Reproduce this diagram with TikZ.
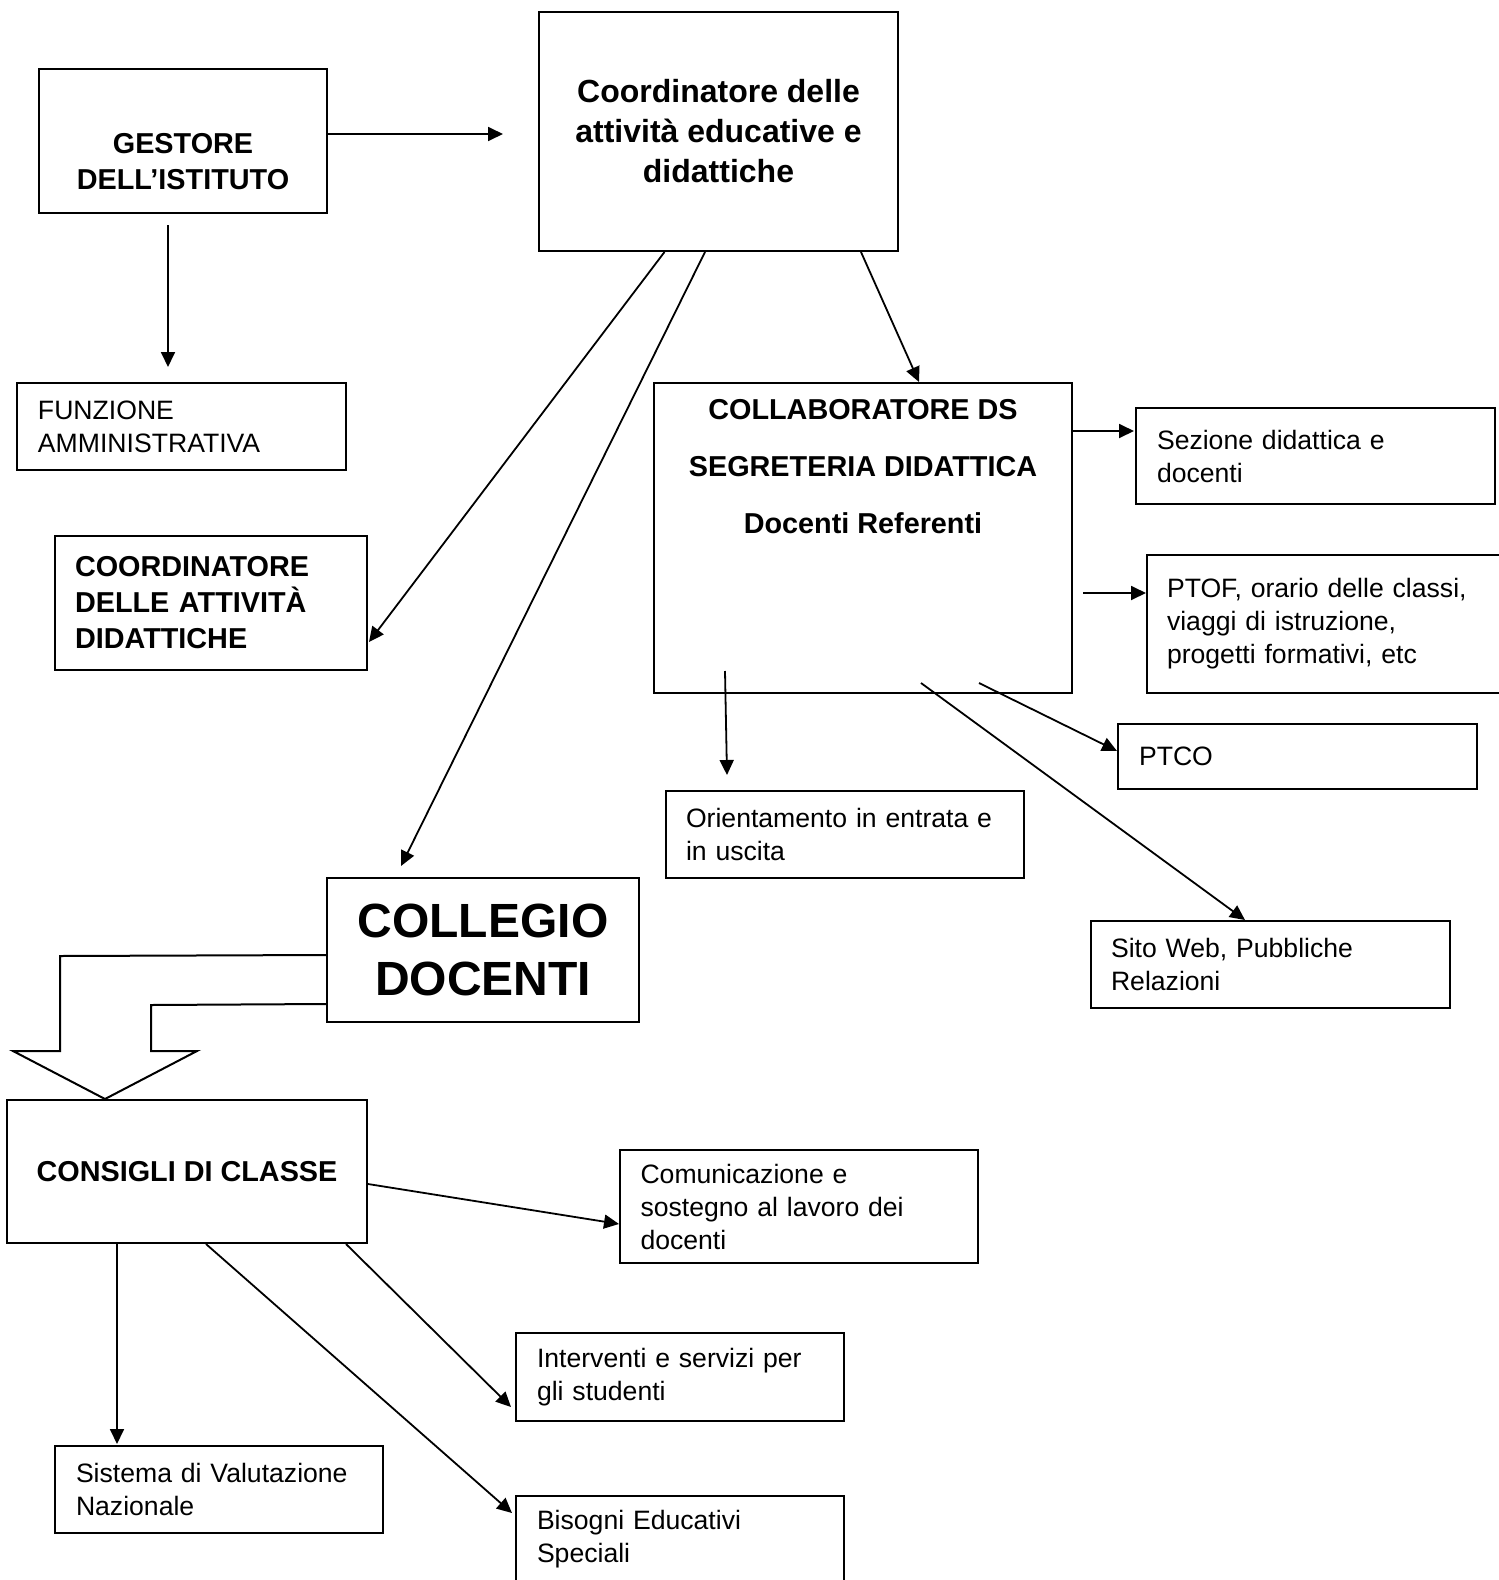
\documentclass[tikz,border=0pt]{standalone}
\usepackage{fontspec}
\setmainfont{Liberation Sans}
\usetikzlibrary{arrows.meta,calc}

\tikzset{
  box/.style={rectangle,draw,line width=1pt,inner sep=0pt,align=left,font=\fontsize{13.3}{16.5}\selectfont},
  titlebox/.style={rectangle,draw,line width=1pt,inner sep=0pt,align=center,font=\fontsize{14.4}{18}\selectfont\bfseries},
  arr/.style={-{Triangle[length=7.5pt,width=7pt]},line width=0.9pt},
}

\begin{document}
\begin{tikzpicture}[x=0.5pt,y=-0.5pt]
\useasboundingbox (0,0) rectangle (1499,1580);
\clip (0,0) rectangle (1499,1580);

\node[box,minimum width=144pt,minimum height=72pt] (gestore) at (183,141) {};
\node[titlebox,draw=none] (gestoretxt) at ($(gestore.center)+(0,21)$) {GESTORE\\DELL’ISTITUTO};
\node[titlebox,minimum width=179.5pt,minimum height=119.5pt,font=\fontsize{16}{20}\selectfont\bfseries] (coord) at (718.5,131.5) {Coordinatore delle\\attività educative e\\didattiche};
\node[box,minimum width=164.5pt,minimum height=43.5pt,text width=143.5pt] (funzione) at (181.5,426.5) {FUNZIONE\\AMMINISTRATIVA};
\node[titlebox,align=left,minimum width=156pt,minimum height=67pt,text width=136pt] (coordatt) at (211,603) {COORDINATORE\\DELLE ATTIVITÀ\\DIDATTICHE};

\node[box,minimum width=209pt,minimum height=155pt] (collab) at (863,538) {};
\node[titlebox,draw=none,anchor=north,font=\fontsize{14.4}{28.7}\selectfont\bfseries] (collabtxt) at ($(collab.north)+(0,16)$) {COLLABORATORE DS\\SEGRETERIA DIDATTICA\\Docenti Referenti};
\node[box,minimum width=179.5pt,minimum height=48pt,text width=158.5pt] (sezione) at (1315.5,456) {Sezione didattica e\\docenti};
\node[box,minimum width=179.5pt,minimum height=69pt,text width=159.5pt] (ptof) at (1326.5,624) {PTOF, orario delle classi,\\viaggi di istruzione,\\progetti formativi, etc};
\node[box,minimum width=179.5pt,minimum height=32.5pt,text width=158.5pt] (ptco) at (1297.5,756.5) {PTCO};
\node[box,minimum width=179pt,minimum height=43.5pt,text width=159pt] (orient) at (845,834.5) {Orientamento in entrata e\\in uscita};
\node[box,minimum width=179.5pt,minimum height=43.5pt,text width=159.5pt] (sito) at (1270.5,964.5) {Sito Web, Pubbliche\\Relazioni};

\node[titlebox,minimum width=156pt,minimum height=72pt,font=\fontsize{24}{29}\selectfont\bfseries] (collegio) at (483,950) {COLLEGIO\\DOCENTI};
\node[titlebox,minimum width=180pt,minimum height=71.5pt] (consigli) at (187,1171.5) {CONSIGLI DI CLASSE};
\node[box,minimum width=179pt,minimum height=56.5pt,text width=158.5pt] (comun) at (799,1206.5) {Comunicazione e\\sostegno al lavoro dei\\docenti};
\node[box,minimum width=164pt,minimum height=44pt,text width=143pt] (interv) at (680,1377) {Interventi e servizi per\\gli studenti};
\node[box,minimum width=164pt,minimum height=43.5pt,text width=143pt] (sistema) at (219,1489.5) {Sistema di Valutazione\\Nazionale};
\node[box,minimum width=164pt,minimum height=43.5pt,text width=143pt] (bisogni) at (680,1539.5) {Bisogni Educativi\\Speciali};

\draw[arr] ($(gestore.east)+(0,-7)$) -- ($(coord.west)+(-35,2.5)$);
\draw[arr] ($(gestore.south)+(-15,11)$) -- ($(funzione.north)+(-13.5,-15)$);
\draw[arr] ($(coord.south)+(-54,0)$) -- ($(coordatt.east)+(1,39)$);
\draw[arr] ($(coord.south)+(-13.5,0)$) -- ($(collegio.north)+(-82,-11)$);
\draw[arr] ($(coord.south)+(142.5,0)$) -- ($(collab.north)+(56,0)$);
\draw[arr] ($(collab.east)+(0,-107)$) -- ($(sezione.west)+(-1,-25)$);
\draw[arr] ($(collab.east)+(10,55)$) -- ($(ptof.west)+(0,-31)$);
\draw[arr] ($(collab.south)+(-138,-23)$) -- ($(orient.north)+(-118,-15)$);
\draw[arr] ($(collab.south)+(116,-11)$) -- ($(ptco.west)+(0,-5.5)$);
\draw[arr] ($(collab.south)+(58,-11)$) -- ($(sito.north)+(-25.5,0)$);
\draw[arr] ($(consigli.east)+(0,12.5)$) -- ($(comun.west)+(0,17.5)$);
\draw[arr] ($(consigli.south)+(159,0)$) -- ($(interv.west)+(-4,30)$);
\draw[arr] ($(consigli.south)+(19,0)$) -- ($(bisogni.west)+(-3,-26.5)$);
\draw[arr] ($(consigli.south)+(-70,0)$) -- ($(sistema.north)+(-102,-1)$);

\draw[line width=1pt] ($(collegio.north west)+(0,78)$) -- (60,956) -- (60,1051) -- (13,1051) -- (105,1099) -- (197,1051) -- (151,1051) -- (151,1005) -- ($(collegio.north west)+(0,127)$);

\end{tikzpicture}
\end{document}
